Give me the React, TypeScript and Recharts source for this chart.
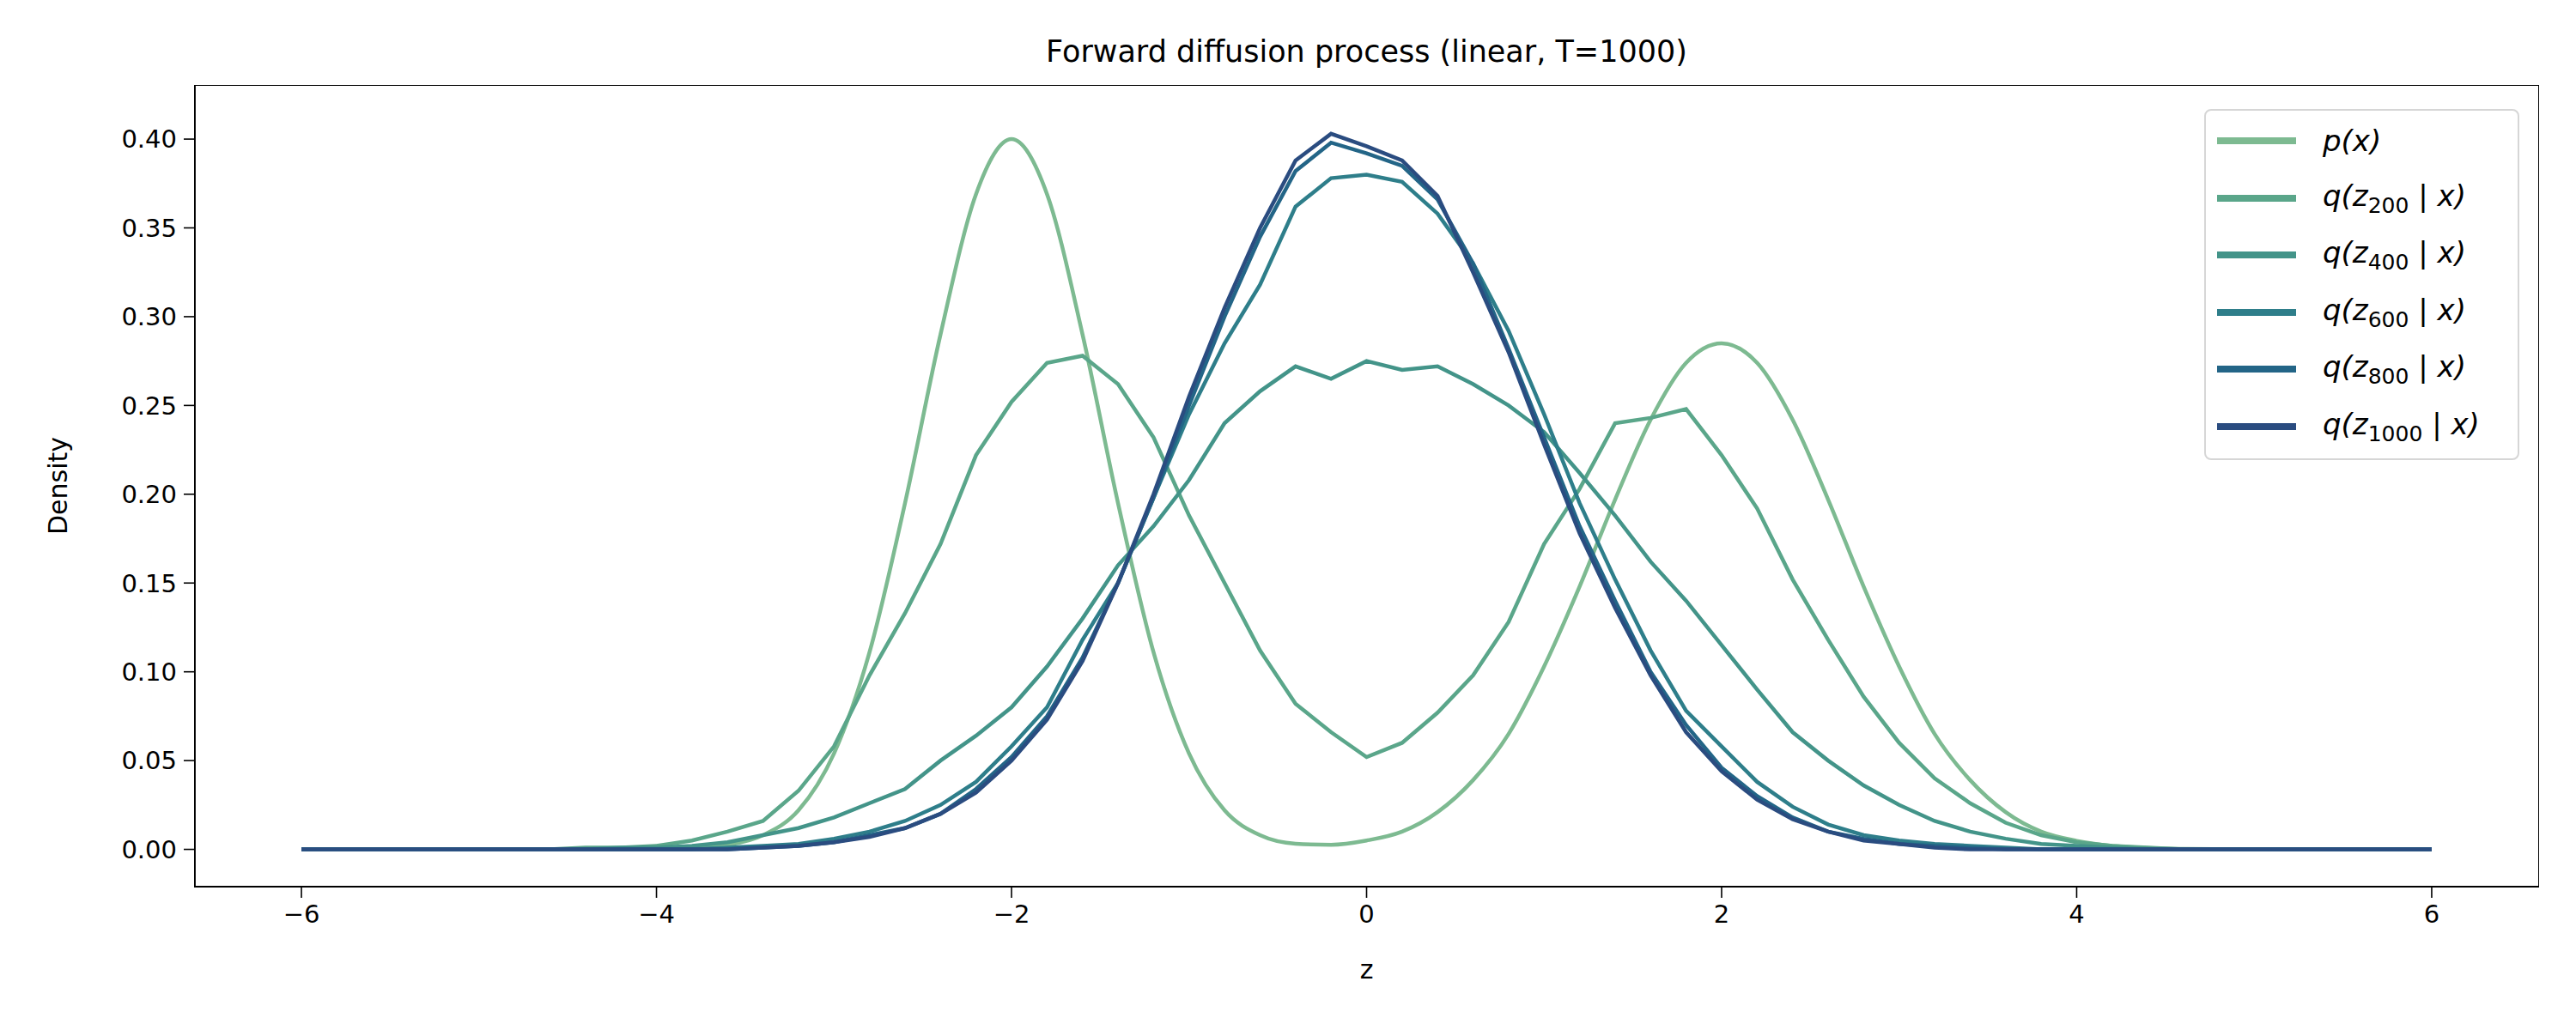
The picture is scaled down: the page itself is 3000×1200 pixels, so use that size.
import { LineChart, Line, XAxis, YAxis } from 'recharts';

const xs: number[] = Array.from({ length: 61 }, (_, i) => Math.round((-6 + 0.2 * i) * 10) / 10);

const px = [0, 0, 0, 0, 0, 0, 0, 0, 0, 0, 0.0001, 0.0006, 0.0024, 0.008, 0.022, 0.054, 0.111, 0.195, 0.29, 0.369, 0.4, 0.369, 0.29, 0.195, 0.111, 0.054, 0.022, 0.008, 0.0032, 0.0026, 0.005, 0.01, 0.021, 0.039, 0.065, 0.103, 0.148, 0.197, 0.242, 0.274, 0.285, 0.274, 0.242, 0.197, 0.148, 0.103, 0.065, 0.039, 0.021, 0.01, 0.0048, 0.002, 0.0008, 0.0003, 0.0001, 0, 0, 0, 0, 0, 0];
const z200 = [0, 0, 0, 0, 0, 0, 0, 0, 0.001, 0.001, 0.002, 0.005, 0.01, 0.016, 0.033, 0.058, 0.098, 0.133, 0.172, 0.222, 0.252, 0.274, 0.278, 0.262, 0.232, 0.188, 0.15, 0.112, 0.082, 0.066, 0.052, 0.06, 0.077, 0.098, 0.128, 0.172, 0.203, 0.24, 0.243, 0.248, 0.222, 0.192, 0.152, 0.118, 0.086, 0.06, 0.04, 0.026, 0.015, 0.008, 0.004, 0.002, 0.001, 0, 0, 0, 0, 0, 0, 0, 0];
const z400 = [0, 0, 0, 0, 0, 0, 0, 0, 0, 0.001, 0.001, 0.002, 0.004, 0.008, 0.012, 0.018, 0.026, 0.034, 0.05, 0.064, 0.08, 0.103, 0.13, 0.16, 0.182, 0.208, 0.24, 0.258, 0.272, 0.265, 0.275, 0.27, 0.272, 0.262, 0.25, 0.235, 0.212, 0.188, 0.162, 0.14, 0.115, 0.09, 0.066, 0.05, 0.036, 0.025, 0.016, 0.01, 0.006, 0.003, 0.002, 0.001, 0, 0, 0, 0, 0, 0, 0, 0, 0];
const z600 = [0, 0, 0, 0, 0, 0, 0, 0, 0, 0, 0, 0, 0.001, 0.002, 0.003, 0.006, 0.01, 0.016, 0.025, 0.038, 0.058, 0.08, 0.118, 0.15, 0.198, 0.245, 0.285, 0.318, 0.362, 0.378, 0.38, 0.376, 0.358, 0.33, 0.292, 0.245, 0.195, 0.152, 0.112, 0.078, 0.058, 0.038, 0.024, 0.014, 0.008, 0.005, 0.003, 0.002, 0.001, 0, 0, 0, 0, 0, 0, 0, 0, 0, 0, 0, 0];
const z800 = [0, 0, 0, 0, 0, 0, 0, 0, 0, 0, 0, 0, 0, 0.001, 0.002, 0.004, 0.008, 0.012, 0.02, 0.034, 0.052, 0.075, 0.108, 0.15, 0.198, 0.25, 0.3, 0.345, 0.382, 0.398, 0.392, 0.385, 0.366, 0.33, 0.282, 0.232, 0.182, 0.14, 0.1, 0.07, 0.046, 0.03, 0.018, 0.01, 0.006, 0.003, 0.002, 0.001, 0, 0, 0, 0, 0, 0, 0, 0, 0, 0, 0, 0, 0];
const z1000 = [0, 0, 0, 0, 0, 0, 0, 0, 0, 0, 0, 0, 0, 0.001, 0.002, 0.004, 0.007, 0.012, 0.02, 0.032, 0.05, 0.073, 0.106, 0.15, 0.2, 0.255, 0.305, 0.35, 0.388, 0.403, 0.396, 0.388, 0.368, 0.325, 0.28, 0.228, 0.178, 0.136, 0.098, 0.066, 0.044, 0.028, 0.017, 0.01, 0.005, 0.003, 0.001, 0, 0, 0, 0, 0, 0, 0, 0, 0, 0, 0, 0, 0, 0];

const xTicks = [-6, -4, -2, 0, 2, 4, 6];
const yTicks = [0, 0.05, 0.1, 0.15, 0.2, 0.25, 0.3, 0.35, 0.4];

const series = [
  { key: 'p', sub: '', color: '#7dba91', values: px, curve: 'monotone' },
  { key: 'z200', sub: '200', color: '#5aa68a', values: z200, curve: 'linear' },
  { key: 'z400', sub: '400', color: '#439489', values: z400, curve: 'linear' },
  { key: 'z600', sub: '600', color: '#2e7e8a', values: z600, curve: 'linear' },
  { key: 'z800', sub: '800', color: '#236587', values: z800, curve: 'linear' },
  { key: 'z1000', sub: '1000', color: '#2a4c80', values: z1000, curve: 'linear' },
];

const data = xs.map((x, i) => {
  const row: Record<string, number> = { x };
  series.forEach((s) => (row[s.key] = s.values[i]));
  return row;
});

const font = '"DejaVu Sans", sans-serif';
const tick = { fill: '#000', fontSize: 29, fontFamily: font };

export default function App() {
  return (
    <div style={{ position: 'absolute', left: 0, top: 0, width: 3000, height: 1200, background: '#fff', fontFamily: font }}>
      <LineChart width={3000} height={1200} data={data} margin={{ top: 100, right: 44, left: 0, bottom: 0 }}>
        <XAxis
          dataKey="x"
          type="number"
          domain={[-6.6, 6.6]}
          ticks={xTicks}
          tickFormatter={(v: number) => String(v).replace('-', '\u2212')}
          height={167}
          tick={tick}
          tickSize={13}
          tickMargin={8}
          axisLine={{ stroke: '#000', strokeWidth: 1.8 }}
          tickLine={{ stroke: '#000', strokeWidth: 1.6 }}
        />
        <YAxis
          domain={[-0.021, 0.43]}
          ticks={yTicks}
          tickFormatter={(v: number) => v.toFixed(2)}
          width={227}
          tick={tick}
          tickSize={13}
          tickMargin={8}
          axisLine={{ stroke: '#000', strokeWidth: 1.8 }}
          tickLine={{ stroke: '#000', strokeWidth: 1.6 }}
        />
        {series.map((s) => (
          <Line key={s.key} type={s.curve as any} dataKey={s.key} stroke={s.color} strokeWidth={4.5} dot={false} isAnimationActive={false} />
        ))}
      </LineChart>

      <div style={{ position: 'absolute', left: 226, top: 99, width: 2729, height: 933, border: '1.8px solid #000', pointerEvents: 'none' }} />

      <div style={{ position: 'absolute', top: 40, left: 227, width: 2729, textAlign: 'center', fontSize: 35 }}>
        Forward diffusion process (linear, T=1000)
      </div>
      <div style={{ position: 'absolute', top: 1112, left: 227, width: 2729, textAlign: 'center', fontSize: 30 }}>z</div>
      <div style={{ position: 'absolute', left: 67, top: 566, fontSize: 30, transform: 'translate(-50%, -50%) rotate(-90deg)' }}>Density</div>

      <div style={{ position: 'absolute', left: 2567, top: 127, width: 363, height: 405, border: '2.5px solid #d6d6d6', borderRadius: 8, background: 'rgba(255,255,255,0.8)' }}>
        {series.map((s, i) => (
          <div key={s.key} style={{ position: 'absolute', left: 0, top: 35 + i * 66.6 - 24, height: 48, display: 'flex', alignItems: 'center' }}>
            <div style={{ marginLeft: 13, width: 92, height: 8, background: s.color }} />
            <div style={{ marginLeft: 31, fontSize: 34, fontStyle: 'italic', whiteSpace: 'nowrap' }}>
              {s.sub ? (
                <span>
                  q(z<sub style={{ fontStyle: 'normal', fontSize: 25 }}>{s.sub}</sub> <span style={{ fontStyle: 'normal' }}>|</span> x)
                </span>
              ) : (
                <span>p(x)</span>
              )}
            </div>
          </div>
        ))}
      </div>
    </div>
  );
}
